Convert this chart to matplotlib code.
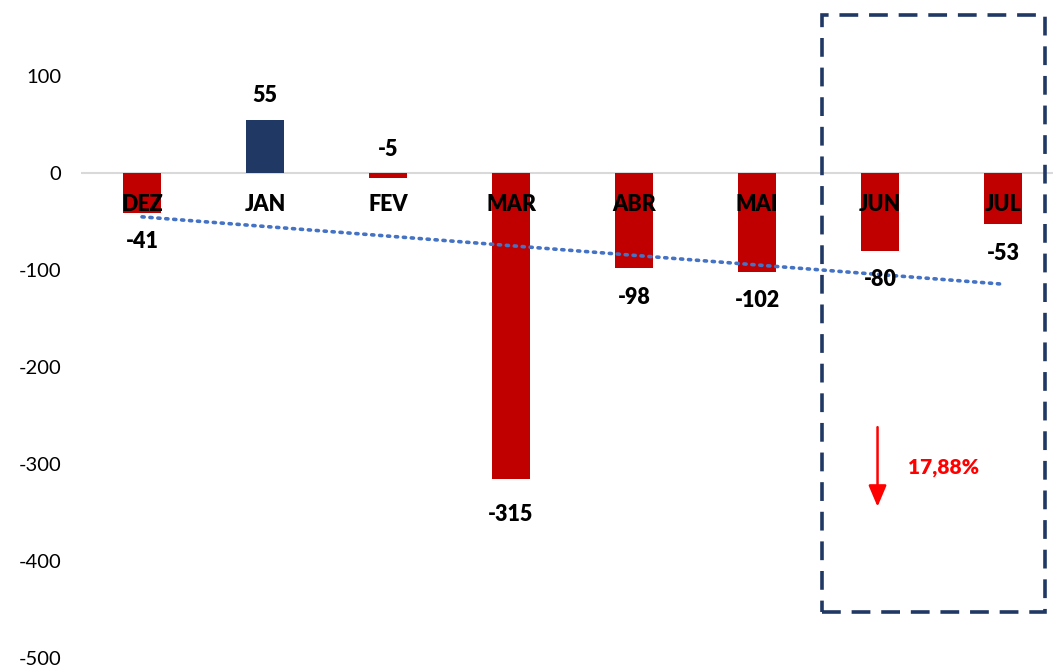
"""
Monthly balance bars (DEZ-JUL) with a linear trend line and a highlighted
JUN/JUL box showing the percentage drop.
"""
import numpy as np
import matplotlib
matplotlib.use('Agg')
import matplotlib.pyplot as plt
import matplotlib.patches as mpatches

# data
months = ['DEZ', 'JAN', 'FEV', 'MAR', 'ABR', 'MAI', 'JUN', 'JUL']
values = [-41, 55, -5, -315, -98, -102, -80, -53]
yticks = [100, 0, -100, -200, -300, -400, -500]
change_label = '17,88%'

RED = '#C00000'
NAVY = '#203864'
TREND = '#4472C4'

plt.rcParams['font.family'] = ['Lato', 'DejaVu Sans']
BOLD = 'heavy'

fig = plt.figure(figsize=(10.53, 6.68), dpi=100)
W, H = 1053, 668
ax = fig.add_axes([80.5 / W, 10 / H, 972.5 / W, 658 / H])

x = np.arange(len(months))
colors = [NAVY if v > 0 else RED for v in values]
ax.bar(x, values, width=0.31, color=colors, zorder=2)

# zero line
ax.axhline(0, color='#D9D9D9', lw=1.5, zorder=1)

# linear trendline (like Excel's)
slope, intercept = np.polyfit(x, values, 1)
ax.plot(x, slope * x + intercept, linestyle=(0, (0.6, 1.6)), color=TREND,
        lw=2.6, dash_capstyle='round', zorder=3)

# category labels sit just under the zero line
for xi, m in zip(x, months):
    ax.text(xi, -32, m, ha='center', va='center', fontsize=15.5,
            fontweight=BOLD, color='black', zorder=4)

# value labels
for xi, v in zip(x, values):
    if v > -10:
        ax.annotate(f'{v}', (xi, max(v, 0)), xytext=(0, 24), textcoords='offset pixels',
                    ha='center', va='center', fontsize=15.5, fontweight=BOLD, zorder=4)
    else:
        off = -36 if v < -200 else -29
        ax.annotate(f'{v}', (xi, v), xytext=(0, off), textcoords='offset pixels',
                    ha='center', va='center', fontsize=15.5, fontweight=BOLD, zorder=4)

# highlight box around the last two months
box = mpatches.Rectangle((5.53, -452.6), 1.81, 615.5, fill=False, edgecolor=NAVY,
                         lw=2.6, linestyle=(0, (5.2, 3.0)), clip_on=False, zorder=5)
ax.add_patch(box)

# red arrow with percentage
ax.annotate('', xy=(5.98, -344), xytext=(5.98, -262),
            arrowprops=dict(arrowstyle='-|>,head_length=1.3,head_width=0.55',
                            color='#FF0000', lw=1.8, shrinkA=0, shrinkB=0))
ax.text(6.52, -304, change_label, ha='center', va='center', fontsize=15,
        fontweight=BOLD, color='#FF0000')

ax.set_xlim(-0.5, 7.5 - 11.5 / 123)
ax.set_ylim(-500, 178.4)
ax.set_yticks(yticks)
ax.set_yticklabels([str(t) for t in yticks], fontsize=14.5)
ax.set_xticks([])
ax.tick_params(axis='y', length=0, pad=14)
for s in ax.spines.values():
    s.set_visible(False)

fig.savefig('out.png', dpi=100)
